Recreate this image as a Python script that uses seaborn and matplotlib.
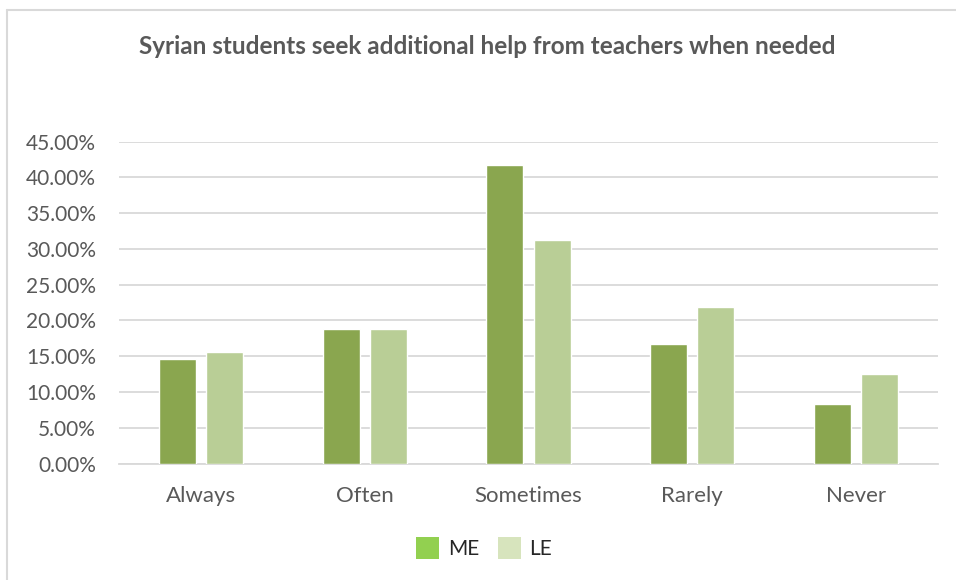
import matplotlib
matplotlib.use("Agg")
import matplotlib.pyplot as plt
from matplotlib.patches import Patch
from matplotlib.lines import Line2D
from matplotlib.ticker import FuncFormatter
import seaborn as sns
import pandas as pd

categories = ["Always", "Often", "Sometimes", "Rarely", "Never"]
me_values = [14.58, 18.75, 41.67, 16.67, 8.33]
le_values = [15.63, 18.75, 31.25, 21.88, 12.50]
series_names = ["ME", "LE"]
y_ticks = [0, 5, 10, 15, 20, 25, 30, 35, 40, 45]

bar_colors = ["#8AA64F", "#B9CE96"]
legend_colors = ["#92D050", "#D7E4BD"]
text_color = "#595959"
grid_color = "#D9D9D9"

df = pd.DataFrame({
    "category": categories * 2,
    "value": me_values + le_values,
    "series": [series_names[0]] * len(categories) + [series_names[1]] * len(categories),
})

sns.set_theme(style="white")
plt.rcParams["font.family"] = ["Lato", "DejaVu Sans"]

fig = plt.figure(figsize=(9.56, 5.8), dpi=100)
ax = fig.add_axes([119 / 956, 1 - 463.5 / 580, (938 - 119) / 956, (463.5 - 141.5) / 580])

sns.barplot(data=df, x="category", y="value", hue="series", order=categories,
            hue_order=series_names, palette=bar_colors, width=0.574, gap=0.213,
            saturation=1, ax=ax, legend=False, zorder=3)

ax.set_ylim(0, 45)
ax.set_xlim(-0.5, len(categories) - 0.5)
ax.set_yticks(y_ticks)
ax.yaxis.set_major_formatter(FuncFormatter(lambda v, _: f"{v:.2f}%"))
ax.grid(axis="y", color=grid_color, linewidth=1.3, zorder=0)
ax.set_axisbelow(True)
for side in ["top", "right", "left"]:
    ax.spines[side].set_visible(False)
ax.spines["bottom"].set_color(grid_color)
ax.spines["bottom"].set_linewidth(1.3)
ax.tick_params(axis="both", length=0, colors=text_color)
ax.tick_params(axis="y", pad=16.5, labelsize=15)
ax.tick_params(axis="x", pad=16, labelsize=16)
ax.set_xlabel("")
ax.set_ylabel("")

fig.text(487 / 956, 1 - 47 / 580, "Syrian students seek additional help from teachers when needed",
         ha="center", va="center", fontsize=17.5, fontweight="bold", color=text_color)

handles = [Patch(facecolor=c, edgecolor="none", label=n) for c, n in zip(legend_colors, series_names)]
fig.legend(handles=handles, loc="center", bbox_to_anchor=(484 / 956, 1 - 548 / 580),
           ncol=2, frameon=False, fontsize=15, handlelength=1.1, handleheight=1.2,
           handletextpad=0.4, columnspacing=0.9, labelcolor="#262626")

# outer chart frame (top and left edges)
fig.add_artist(Line2D([7 / 956, 7 / 956], [0, 1 - 10 / 580], color=grid_color, linewidth=1.5))
fig.add_artist(Line2D([7 / 956, 1], [1 - 10 / 580, 1 - 10 / 580], color=grid_color, linewidth=1.5))

fig.savefig("out.png", dpi=100, facecolor="white")
